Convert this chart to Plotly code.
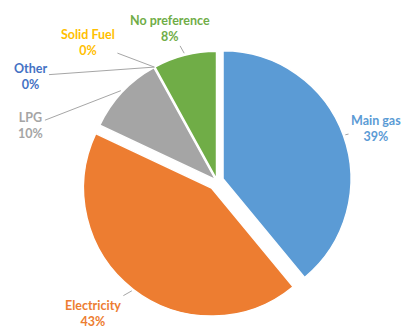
import math
import plotly.graph_objects as go

labels = ["Main gas", "Electricity", "LPG", "Other", "Solid Fuel", "No preference"]
values = [39, 43, 10, 0, 0, 8]
pct_text = ["39%", "43%", "10%", "0%", "0%", "8%"]
colors = ["#5B9BD5", "#ED7D31", "#A5A5A5", "#4472C4", "#FFC000", "#70AD47"]
pulls = [0.05, 0.07, 0.015, 0.0, 0.0, 0.015]

W, H = 409, 330
CX, CY, R = 217, 181, 128          # pie centre / radius in pixels
MAXP = max(pulls)
half = R * (1 + MAXP)

# label text centres (pixels)
label_pos = {
    "Main gas": (376, 128),
    "Electricity": (93, 313),
    "LPG": (30, 126),
    "Other": (30, 76),
    "Solid Fuel": (88, 42),
    "No preference": (170, 28),
}

fig = go.Figure(go.Pie(
    labels=labels, values=values, sort=False, direction="clockwise", rotation=0,
    marker=dict(colors=colors, line=dict(color="white", width=1.5)),
    pull=pulls, textinfo="none", showlegend=False,
    domain=dict(x=[(CX - half) / W, (CX + half) / W],
                y=[(H - CY - half) / H, (H - CY + half) / H]),
))

total = sum(values)
cum = 0
annotations = []
for lab, v, t, c, p in zip(labels, values, pct_text, colors, pulls):
    mid = (cum + v / 2) / total * 2 * math.pi
    cum += v
    rr = R * (1 + p) + 2
    px = CX + math.sin(mid) * rr
    py = CY - math.cos(mid) * rr
    lx, ly = label_pos[lab]
    annotations.append(dict(
        x=px / W, y=1 - py / H, xref="paper", yref="paper",
        ax=lx - px, ay=ly - py, showarrow=True, arrowhead=0, arrowwidth=1,
        arrowcolor="#A6A6A6", standoff=0, startstandoff=1,
        text=f"<b>{lab}<br>{t}</b>", align="center",
        font=dict(family="Lato, Open Sans, sans-serif", size=12.5, color=c),
    ))

fig.update_layout(
    width=W, height=H, margin=dict(l=0, r=0, t=0, b=0),
    paper_bgcolor="white", plot_bgcolor="white",
    annotations=annotations,
)
fig.write_html("out.html", config={"displayModeBar": False},
               post_script="document.body.style.margin='0';")
